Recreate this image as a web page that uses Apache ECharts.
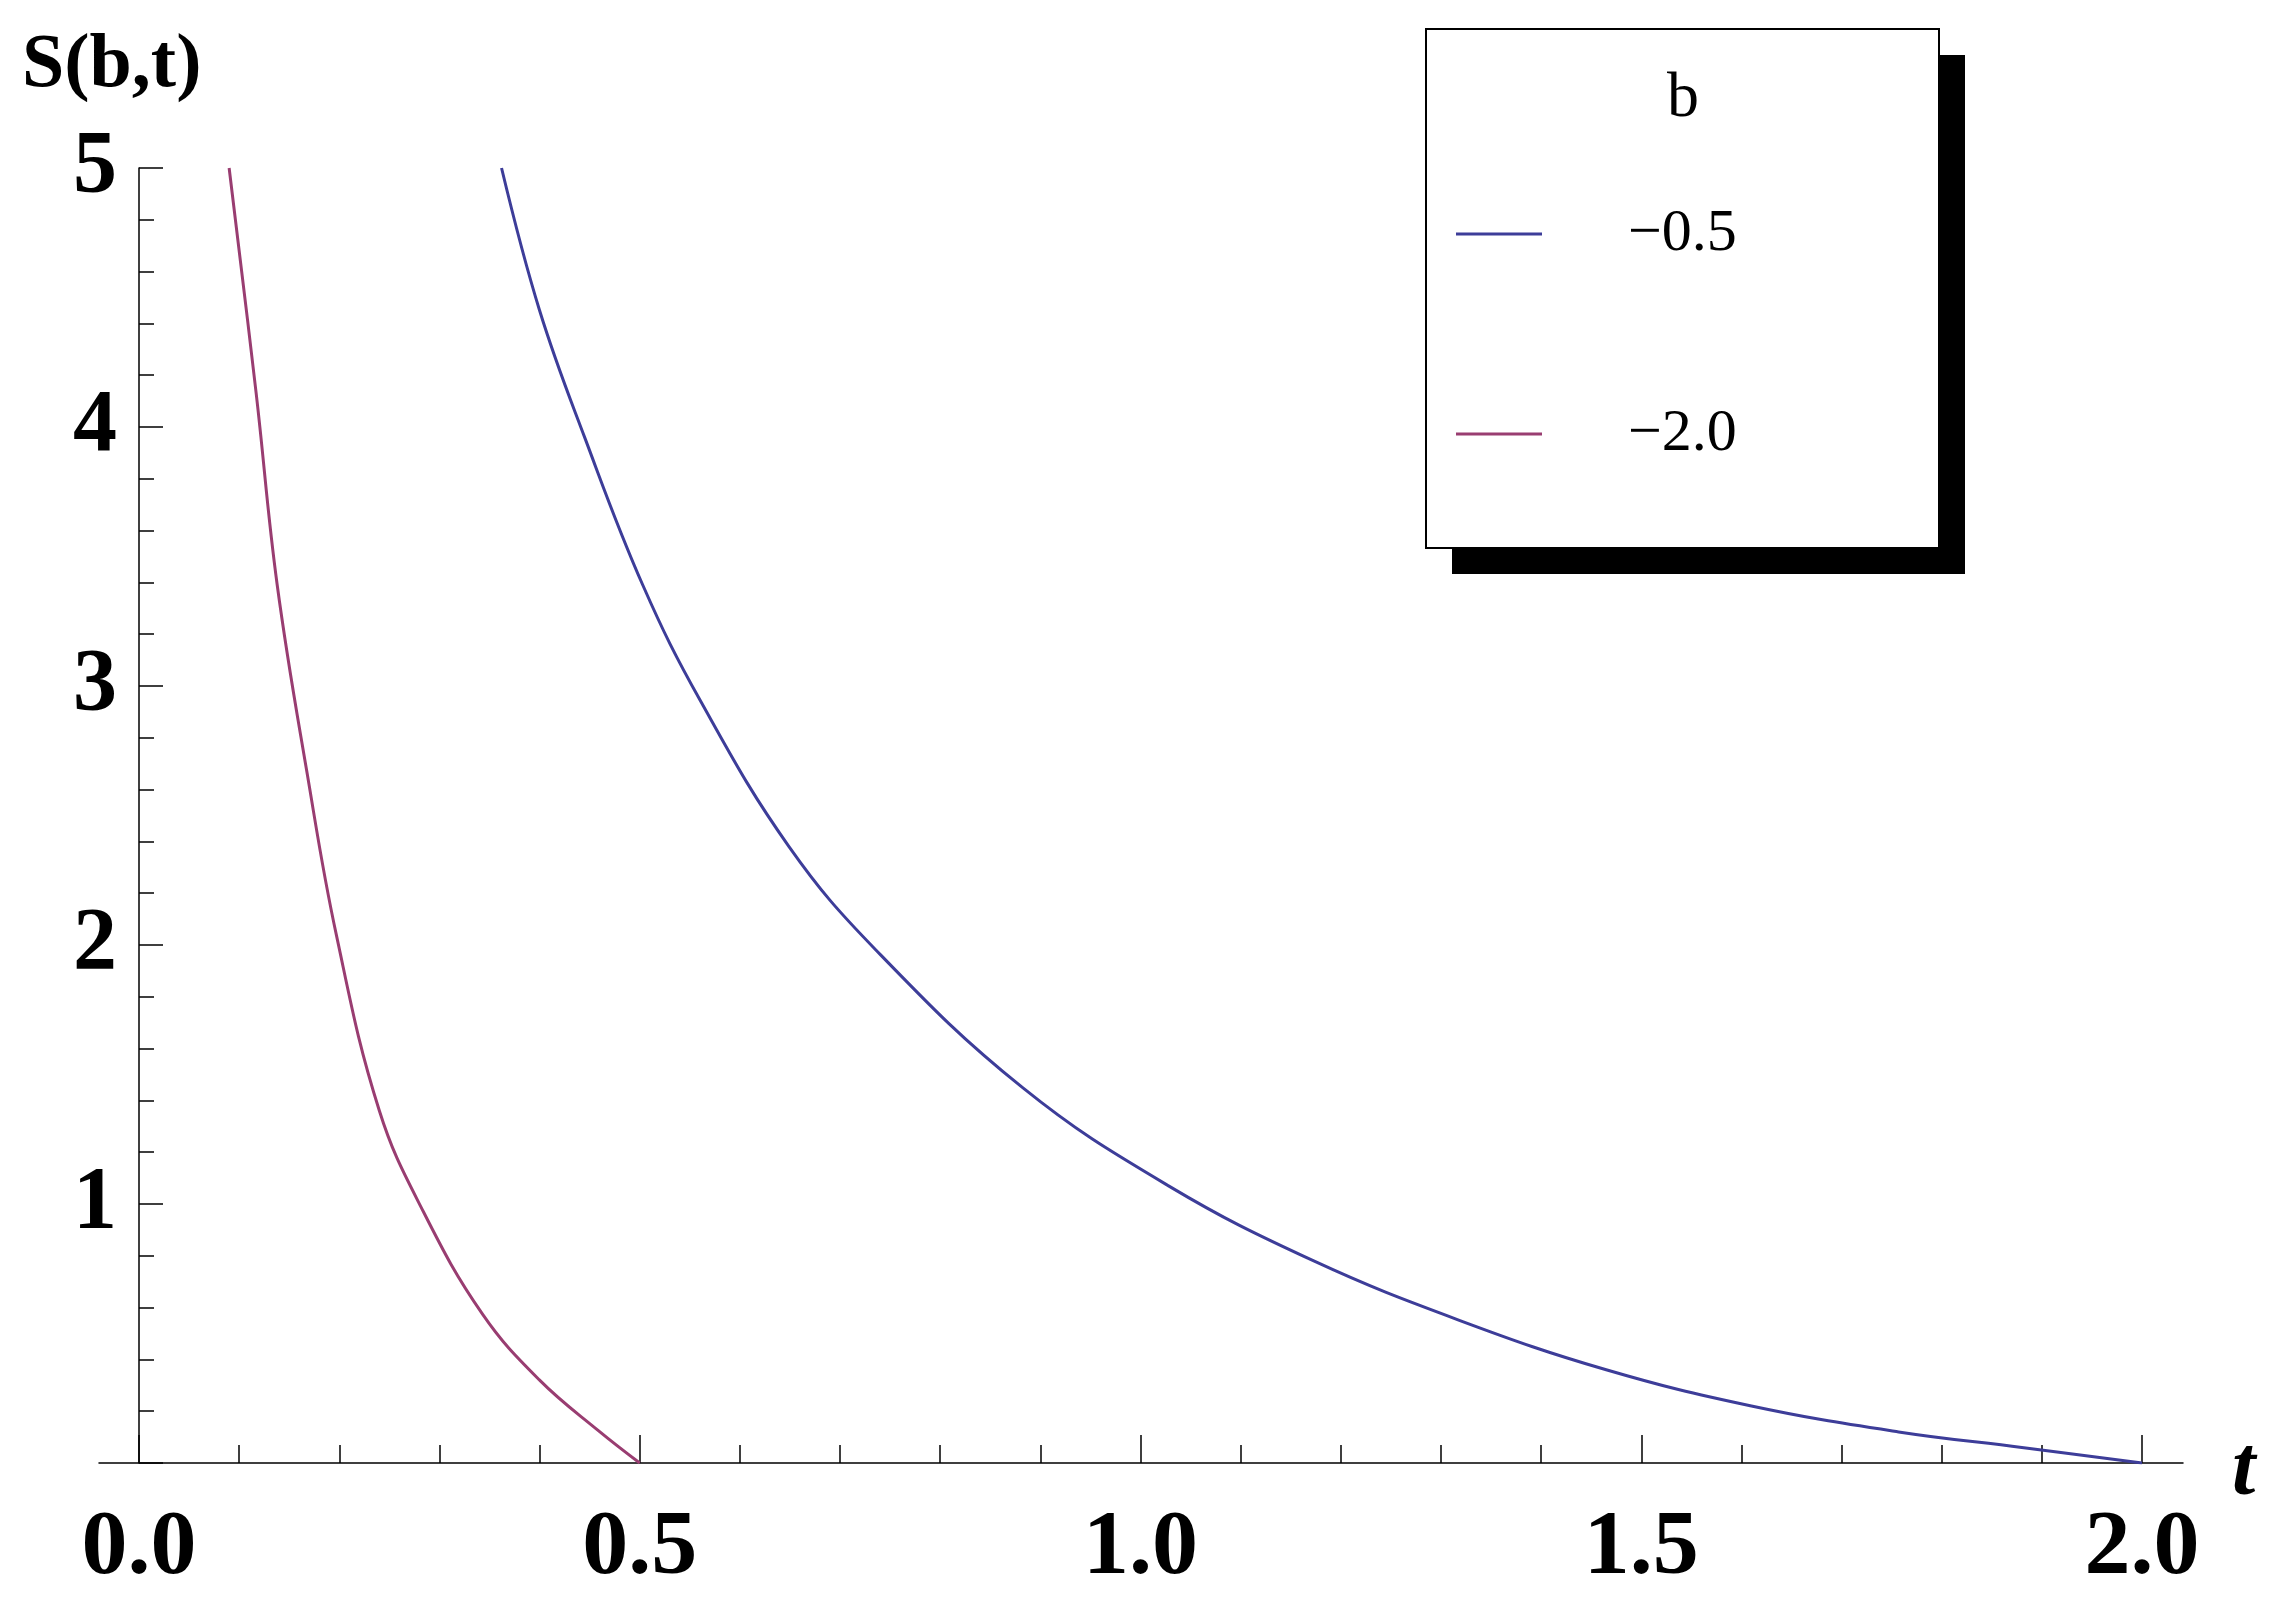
<!DOCTYPE html>
<html><head><meta charset="utf-8">
<script src="https://cdn.jsdelivr.net/npm/echarts@6/dist/echarts.min.js"></script>
<style>html,body{margin:0;padding:0;background:#fff}#c{width:2290px;height:1602px}</style>
</head><body><div id="c"></div>
<script>
const tBlue = [0.362,0.40,0.445,0.503,0.561,0.649,0.736,0.882,1.028,1.173,1.319,1.465,1.61,1.757,1.88,2.0];
const sBlue = [5.0,4.45,3.96,3.39,2.94,2.38,1.98,1.45,1.07,0.78,0.55,0.36,0.22,0.12,0.06,0.0];
const tPurple = [0.09,0.117,0.138,0.168,0.197,0.24,0.284,0.343,0.40,0.459,0.5];
const sPurple = [5.0,4.13,3.39,2.66,2.04,1.36,0.97,0.575,0.32,0.124,0.0];
const seriesNames = ['\u22120.5','\u22122.0'];
const colors = ['#3d3d99','#993d71'];
const xTicks = [0,0.5,1,1.5,2];
const yTicks = [1,2,3,4,5];

const font = '"Liberation Serif","DejaVu Serif",serif';
const chart = echarts.init(document.getElementById('c'));
const zip = (a,b)=>a.map((v,i)=>[v,b[i]]);
chart.setOption({
  animation:false,
  grid:[{left:139,right:148,top:168,bottom:139},{left:99,right:107,top:168,bottom:139}],
  xAxis:[
    {type:'value',gridIndex:0,min:0,max:2,interval:0.5,
     axisLine:{show:false},
     axisTick:{show:true,inside:true,length:28,lineStyle:{color:'#000',width:1.5}},
     minorTick:{show:true,splitNumber:5,length:18,lineStyle:{color:'#000',width:1.5}},
     splitLine:{show:false},
     axisLabel:{margin:40,fontFamily:font,fontWeight:'bold',fontSize:92,color:'#000',
       formatter:v=>xTicks.includes(v)?v.toFixed(1):''}},
    {type:'value',gridIndex:1,min:0,max:1,axisLine:{show:true,lineStyle:{color:'#000',width:1.5}},
     axisTick:{show:false},axisLabel:{show:false},splitLine:{show:false}}
  ],
  yAxis:[
    {type:'value',gridIndex:0,min:0,max:5,interval:1,
     axisLine:{show:true,lineStyle:{color:'#000',width:1.5}},
     axisTick:{show:true,inside:true,length:24,lineStyle:{color:'#000',width:1.5}},
     minorTick:{show:true,splitNumber:5,length:15,lineStyle:{color:'#000',width:1.5}},
     splitLine:{show:false},
     axisLabel:{margin:22,fontFamily:font,fontWeight:'bold',fontSize:88,color:'#000',
       formatter:v=>yTicks.includes(v)?String(v):''}},
    {type:'value',gridIndex:1,show:false}
  ],
  series:[
    {type:'line',name:seriesNames[0],data:zip(tBlue,sBlue),smooth:0.4,showSymbol:false,
     lineStyle:{color:colors[0],width:3},xAxisIndex:0,yAxisIndex:0},
    {type:'line',name:seriesNames[1],data:zip(tPurple,sPurple),smooth:0.4,showSymbol:false,
     lineStyle:{color:colors[1],width:3},xAxisIndex:0,yAxisIndex:0}
  ],
  graphic:[
    {type:'text',left:22,top:28,style:{text:'S(b,t)',font:'bold 76px '+font,fill:'#000'}},
    {type:'text',left:2232,top:1430,style:{text:'t',font:'italic bold 84px '+font,fill:'#000'}},
    {type:'rect',shape:{x:1452,y:55,width:513,height:519},style:{fill:'#000'}},
    {type:'rect',shape:{x:1426,y:29,width:513,height:519},style:{fill:'#fff',stroke:'#000',lineWidth:2}},
    {type:'text',x:1683,y:99,style:{text:'b',font:'64px '+font,fill:'#000',align:'center',verticalAlign:'middle'}},
    {type:'line',shape:{x1:1456,y1:234,x2:1542,y2:234},style:{stroke:colors[0],lineWidth:3}},
    {type:'text',x:1628,y:234,style:{text:seriesNames[0],font:'60px '+font,fill:'#000',verticalAlign:'middle'}},
    {type:'line',shape:{x1:1456,y1:434,x2:1542,y2:434},style:{stroke:colors[1],lineWidth:3}},
    {type:'text',x:1628,y:434,style:{text:seriesNames[1],font:'60px '+font,fill:'#000',verticalAlign:'middle'}}
  ]
});
</script></body></html>
